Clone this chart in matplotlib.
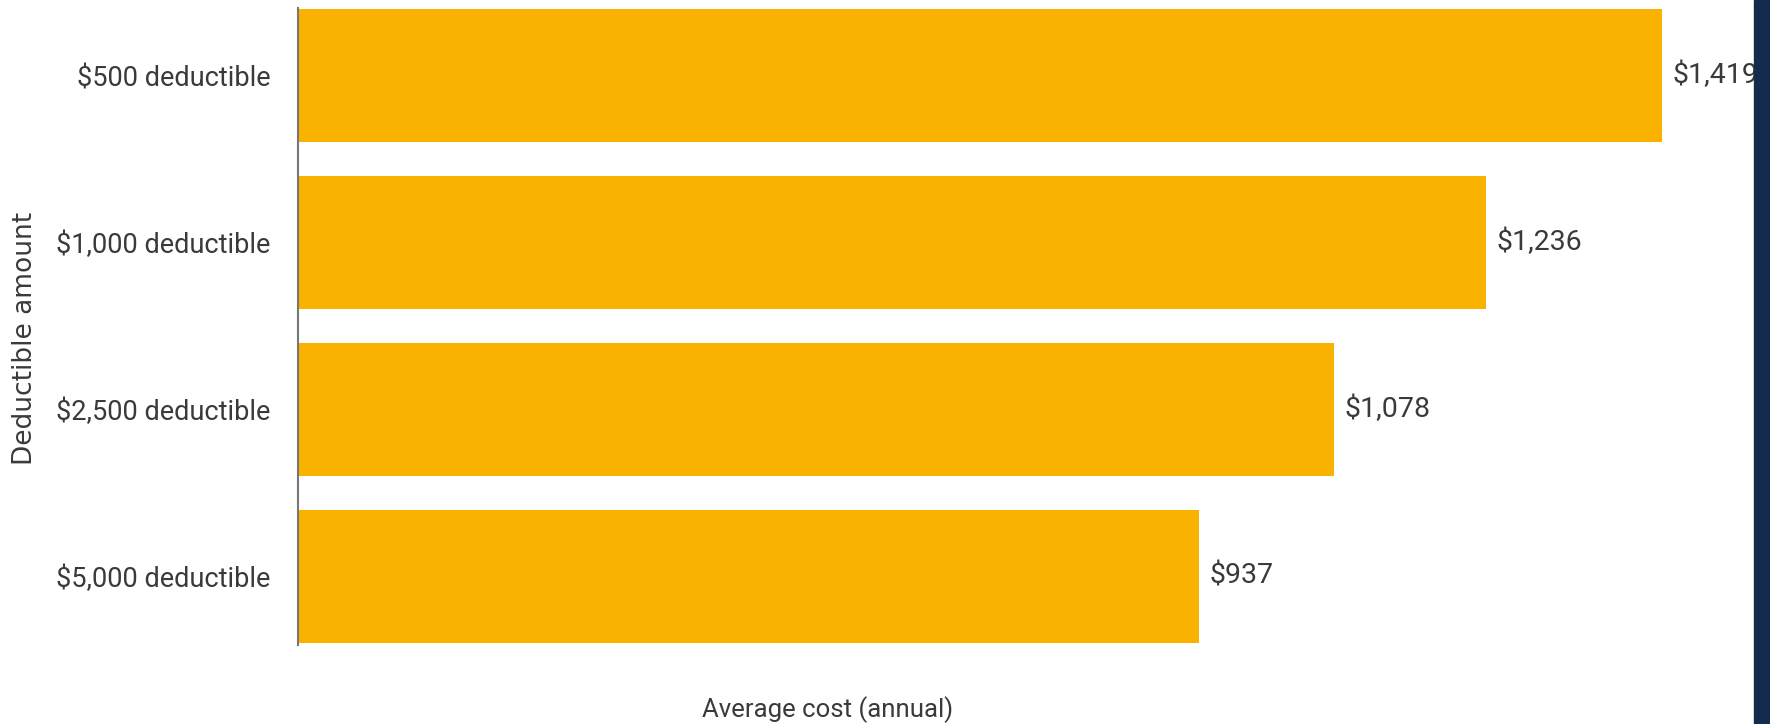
import matplotlib
matplotlib.use("Agg")
import matplotlib.pyplot as plt
import matplotlib.patches as patches

# data
categories = ["$500 deductible", "$1,000 deductible", "$2,500 deductible", "$5,000 deductible"]
costs = [1419, 1236, 1078, 937]
value_labels = ["$1,419", "$1,236", "$1,078", "$937"]

bar_color = "#FAB200"
text_color = "#3a3a3a"
font = ["Roboto", "DejaVu Sans"]

fig = plt.figure(figsize=(17.7, 7.24), dpi=100)
# axes spans the bars only (pixels 8..645 from the top)
ax = fig.add_axes([298 / 1770, 1 - 645 / 724, (1754 - 298) / 1770, 637 / 724])

y = list(range(len(categories)))
ax.barh(y, costs, height=0.8, color=bar_color, zorder=2)

for yi, v, lab in zip(y, costs, value_labels):
    ax.text(v + 11, yi, lab, va="center", ha="left", fontsize=20.5,
            color=text_color, family=font)

ax.set_xlim(0, 1515)
ax.set_ylim(3.412, -0.406)
ax.set_yticks(y)
ax.set_yticklabels(categories, fontsize=19.5, color=text_color, family=font)
ax.tick_params(axis="y", length=0, pad=20)
ax.set_xticks([])

for s in ["top", "right", "bottom"]:
    ax.spines[s].set_visible(False)
ax.spines["left"].set_color("#777777")
ax.spines["left"].set_linewidth(1.5)

fig.text(25 / 1770, 1 - 338 / 724, "Deductible amount", rotation=90,
         ha="center", va="center", fontsize=19, color=text_color, family="DejaVu Sans")
fig.text(828 / 1770, 1 - 710 / 724, "Average cost (annual)", ha="center",
         va="center", fontsize=18.5, color=text_color, family=font)

# dark strip at the right edge
fig.patches.append(patches.Rectangle((1754 / 1770, 0), 16 / 1770, 1,
                                     transform=fig.transFigure, color="#132B4D"))

fig.savefig("out.png", dpi=100)
